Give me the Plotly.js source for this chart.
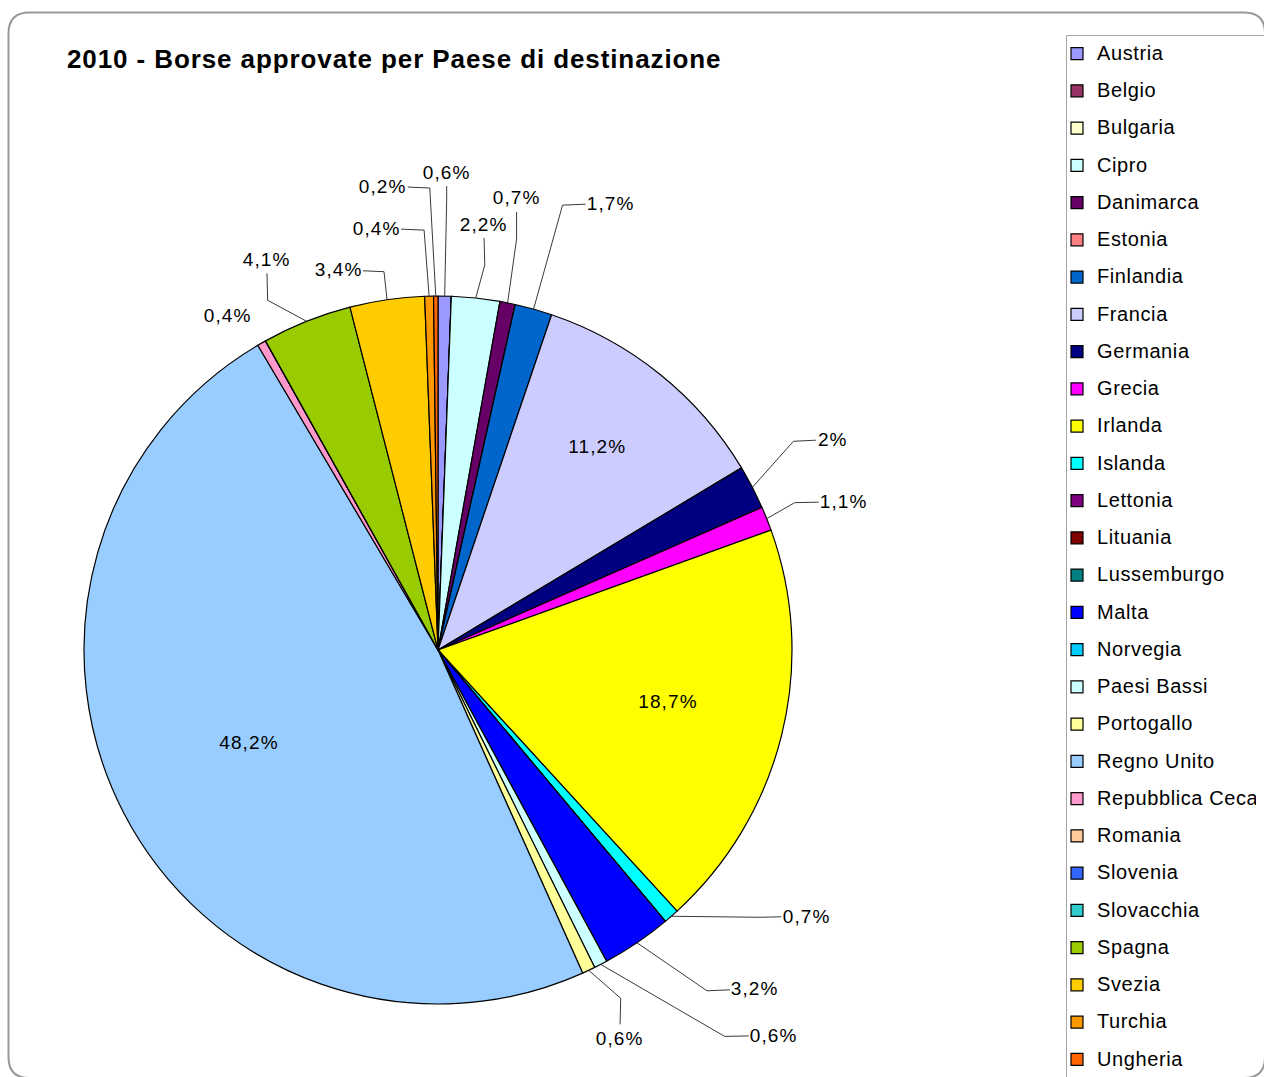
<!DOCTYPE html>
<html>
<head>
<meta charset="utf-8">
<script src="https://cdn.plot.ly/plotly-3.0.1.min.js"></script>
<style>
html,body{margin:0;padding:0;background:#fff;}
#chart{width:1264px;height:1077px;}
#chart .gtitle{letter-spacing:0.9px;}
#chart .legendtext{letter-spacing:0.6px;}
#chart .annotation-text{letter-spacing:1.1px;}
</style>
</head>
<body>
<div id="chart"></div>
<script>
// ---- data ----
const countries = ["Austria","Belgio","Bulgaria","Cipro","Danimarca","Estonia","Finlandia","Francia","Germania","Grecia","Irlanda","Islanda","Lettonia","Lituania","Lussemburgo","Malta","Norvegia","Paesi Bassi","Portogallo","Regno Unito","Repubblica Ceca","Romania","Slovenia","Slovacchia","Spagna","Svezia","Turchia","Ungheria"];
const shares = [0.6,0,0,2.2,0.7,0,1.7,11.2,2,1.1,18.7,0.7,0,0,0,3.2,0,0.6,0.6,48.2,0.4,0,0,0,4.1,3.4,0.4,0.2];
const sliceColors = ["#9999FF","#993366","#FFFFCC","#CCFFFF","#660066","#FF8080","#0066CC","#CCCCFF","#000080","#FF00FF","#FFFF00","#00FFFF","#800080","#800000","#008080","#0000FF","#00CCFF","#CCFFFF","#FFFF99","#99CCFF","#FF99CC","#FFCC99","#3366FF","#33CCCC","#99CC00","#FFCC00","#FF9900","#FF6600"];
const chartTitle = "2010 - Borse approvate per Paese di destinazione";

// ---- label placement (styling only): text offset from slice edge, elbow offset from text ----
const outsideNudge = {
  "Austria":[2,-124], "Cipro":[8,-74], "Danimarca":[9,-105], "Finlandia":[77,-106],
  "Germania":[81,-48], "Grecia":[77,-17], "Islanda":[135,0], "Malta":[118,46],
  "Paesi Bassi":[173,71], "Portogallo":[31,68], "Repubblica Ceca":[-34,-28],
  "Spagna":[-40,-62], "Svezia":[-49,-30], "Turchia":[-53,-68], "Ungheria":[-53,-110]
};
const leaderElbow = {
  "Austria":[0,28], "Cipro":[1,41], "Danimarca":[0,41], "Finlandia":[-48,2],
  "Germania":[-40,2], "Grecia":[-49,1], "Islanda":[-46,1], "Malta":[-48,2],
  "Paesi Bassi":[-49,1], "Portogallo":[1,-40], "Repubblica Ceca":null,
  "Spagna":[1,41], "Svezia":[46,2], "Turchia":[48,2], "Ungheria":[47,2]
};
const insideFrac = {"Francia":0.72, "Irlanda":0.67, "Regno Unito":0.60};

const W = 1264, H = 1077;
const FONT = "Liberation Sans, Arial, sans-serif";
const dom = {x:[84/W, 792/W], y:[73/H, 781/H]};
const cx = (dom.x[0]+dom.x[1])/2*W;
const cy = (1-(dom.y[0]+dom.y[1])/2)*H;
const R = Math.min((dom.x[1]-dom.x[0])*W, (dom.y[1]-dom.y[0])*H)/2;
const px = x => x/W, py = y => 1-y/H;

const fmt = v => String(v).replace('.', ',') + '%';
const total = shares.reduce((a,b)=>a+b,0);
const labelFont = {family:FONT, size:19, color:'#000'};
const LEADER = '#3a3a3a';
const annotations = [];
const leaderShapes = [];
let cum = 0;
countries.forEach((c,i)=>{
  const v = shares[i];
  const mid = 2*Math.PI*(cum + v/2)/total;
  cum += v;
  if (!v) return;
  const sx = Math.sin(mid), sy = -Math.cos(mid);
  if (insideFrac[c] !== undefined) {
    const f = insideFrac[c];
    annotations.push({xref:'paper', yref:'paper', x:px(cx+R*f*sx), y:py(cy+R*f*sy),
      xanchor:'center', yanchor:'middle', yshift:5,
      text:fmt(v), showarrow:false, font:labelFont});
  } else if (outsideNudge[c]) {
    const ex = cx+R*sx, ey = cy+R*sy;           // slice edge point
    const n = outsideNudge[c];
    const tx = ex+n[0], ty = ey+n[1];            // label centre
    const e = leaderElbow[c];
    if (!e) {
      annotations.push({xref:'paper', yref:'paper', x:px(tx), y:py(ty),
        xanchor:'center', yanchor:'middle', text:fmt(v), showarrow:false, font:labelFont});
    } else {
      const bx = tx+e[0], by = ty+e[1];          // elbow point
      annotations.push({xref:'paper', yref:'paper', x:px(bx), y:py(by),
        ax:-e[0], ay:-e[1], text:fmt(v), showarrow:true, arrowhead:0, arrowwidth:1,
        arrowcolor:LEADER, standoff:0, startstandoff:0, borderpad:3, font:labelFont});
      leaderShapes.push({type:'line', xref:'paper', yref:'paper',
        x0:px(bx), y0:py(by), x1:px(ex), y1:py(ey), line:{color:LEADER, width:1}});
    }
  }
});

function framePath(){
  const L=8.5, T=12.5, Rr=1265, B=1078, k=21;
  const p = (x,y)=> px(x)+','+py(y);
  return 'M'+p(L+k,B)+' Q'+p(L,B)+' '+p(L,B-k)+' L'+p(L,T+k)+' Q'+p(L,T)+' '+p(L+k,T)+
         ' L'+p(Rr-k,T)+' Q'+p(Rr,T)+' '+p(Rr,T+k)+' L'+p(Rr,B-k)+' Q'+p(Rr,B)+' '+p(Rr-k,B)+' Z';
}

const trace = {
  type:'pie',
  labels: countries.map(c => '<span style="font-size:20px;baseline-shift:4px">'+c+'</span>'),
  values: shares,
  sort:false, direction:'clockwise', rotation:0,
  marker:{colors:sliceColors, line:{color:'#000', width:1.2}},
  textinfo:'none', hoverinfo:'label+percent',
  domain: dom
};

const layout = {
  width:W, height:H,
  margin:{l:0,r:0,t:0,b:0, autoexpand:false},
  paper_bgcolor:'#fff', plot_bgcolor:'#fff',
  title:{text:'<b>'+chartTitle+'</b>', x:px(67), xanchor:'left', xref:'paper',
         y:py(59), yanchor:'middle', yref:'paper',
         font:{family:FONT, size:26, color:'#000'}},
  showlegend:true,
  legend:{x:px(1057), xanchor:'left', y:py(29.9), yanchor:'top',
          font:{family:FONT, size:26.35, color:'#000'},
          bgcolor:'rgba(0,0,0,0)', borderwidth:0, traceorder:'normal'},
  shapes:[
    {type:'path', xref:'paper', yref:'paper', path:framePath(), line:{color:'#999', width:2}, layer:'below'},
    {type:'line', xref:'paper', yref:'paper', x0:px(1066.5), x1:px(1266), y0:py(35.5), y1:py(35.5), line:{color:'#a6a6a6', width:1}},
    {type:'line', xref:'paper', yref:'paper', x0:px(1066.5), x1:px(1066.5), y0:py(35.5), y1:py(1080), line:{color:'#a6a6a6', width:1}}
  ].concat(leaderShapes),
  annotations: annotations
};

Plotly.newPlot('chart', [trace], layout, {displayModeBar:false, staticPlot:true});
</script>
</body>
</html>
